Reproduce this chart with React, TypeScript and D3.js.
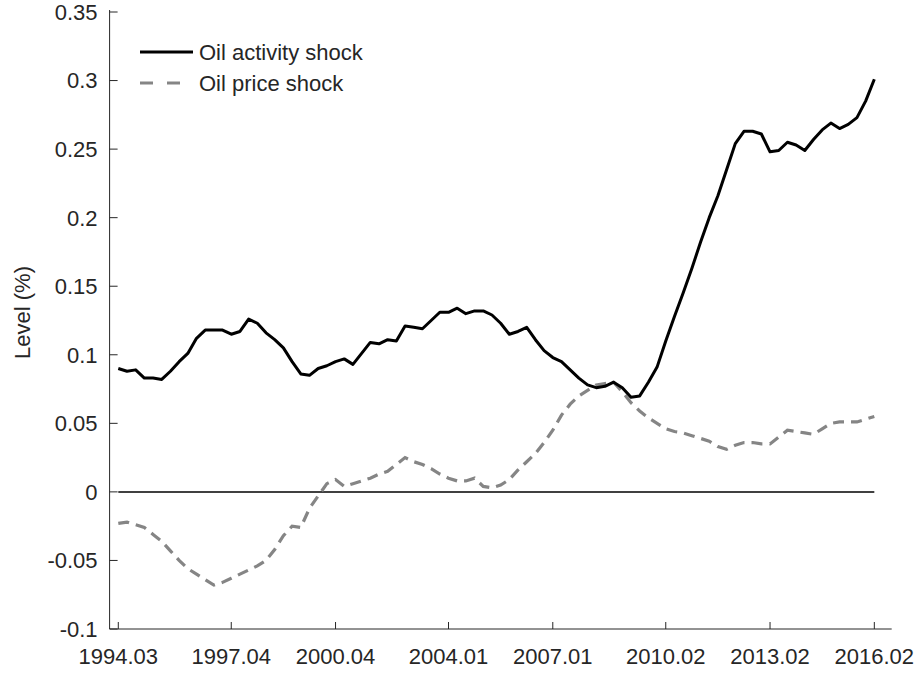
import React from 'react';
import * as d3 from 'd3';

// quarterly data, 1994Q3 .. 2016Q2
const startYear = 1994;
const startQuarter = 3;

const oilActivity = [
  0.090, 0.088, 0.089, 0.083, 0.083, 0.082, 0.088, 0.095, 0.101, 0.112,
  0.118, 0.118, 0.118, 0.115, 0.117, 0.126, 0.123, 0.116, 0.111, 0.105,
  0.095, 0.086, 0.085, 0.090, 0.092, 0.095, 0.097, 0.093, 0.101, 0.109,
  0.108, 0.111, 0.110, 0.121, 0.120, 0.119, 0.125, 0.131, 0.131, 0.134,
  0.130, 0.132, 0.132, 0.129, 0.123, 0.115, 0.117, 0.120, 0.111, 0.103,
  0.098, 0.095, 0.089, 0.083, 0.078, 0.076, 0.077, 0.080, 0.076, 0.069,
  0.070, 0.080, 0.091, 0.110, 0.128, 0.145, 0.163, 0.182, 0.200, 0.216,
  0.235, 0.254, 0.263, 0.263, 0.261, 0.248, 0.249, 0.255, 0.253, 0.249,
  0.257, 0.264, 0.269, 0.265, 0.268, 0.273, 0.285, 0.301,
];

const oilPrice = [
  -0.023, -0.022, -0.024, -0.026, -0.031, -0.036, -0.043, -0.050, -0.056, -0.060,
  -0.064, -0.068, -0.066, -0.063, -0.060, -0.057, -0.054, -0.050, -0.042, -0.032,
  -0.025, -0.026, -0.012, -0.003, 0.006, 0.009, 0.004, 0.006, 0.008, 0.010,
  0.013, 0.015, 0.020, 0.025, 0.022, 0.020, 0.017, 0.013, 0.010, 0.008,
  0.008, 0.010, 0.004, 0.003, 0.005, 0.009, 0.016, 0.022, 0.028, 0.036,
  0.045, 0.056, 0.064, 0.070, 0.074, 0.078, 0.079, 0.080, 0.073, 0.065,
  0.059, 0.054, 0.050, 0.046, 0.044, 0.043, 0.041, 0.039, 0.037, 0.033,
  0.031, 0.034, 0.036, 0.036, 0.035, 0.035, 0.040, 0.045, 0.044, 0.043,
  0.042, 0.046, 0.050, 0.051, 0.051, 0.051, 0.053, 0.055,
];

const xTickLabels = ['1994.03', '1997.04', '2000.04', '2004.01', '2007.01', '2010.02', '2013.02', '2016.02'];
const yTicks = [-0.1, -0.05, 0, 0.05, 0.1, 0.15, 0.2, 0.25, 0.3, 0.35];
const legendLabels = ['Oil activity shock', 'Oil price shock'];

const width = 921;
const height = 673;
const font = '"Liberation Sans", Arial, Helvetica, sans-serif';
const textColor = '#262626';

const quarterIndex = (label: string) => {
  const [y, q] = label.split('.').map(Number);
  return (y - startYear) * 4 + (q - startQuarter);
};

const App = () => {
  const n = oilActivity.length;
  const x = d3.scaleLinear().domain([-1, n + 1]).range([109.6, 891.7]);
  const y = d3.scaleLinear().domain([-0.1, 0.35]).range([629, 12]);

  const line = d3.line<number>()
    .x((_, i) => x(i))
    .y(d => y(d));

  const fmt = (v: number) => (v === 0 ? '0' : String(+v.toFixed(2)));

  const [x0, x1] = x.range();
  const [yBottom, yTop] = y.range();

  return (
    <svg width={width} height={height} style={{ position: 'absolute', left: 0, top: 0, background: '#fff' }}
      fontFamily={font}>
      <rect width={width} height={height} fill="#fff" />

      {/* zero line */}
      <line x1={x(0)} x2={x(n - 1)} y1={y(0)} y2={y(0)} stroke="#000" strokeWidth={1.5} />

      <path d={line(oilPrice) || ''} fill="none" stroke="#858585" strokeWidth={3.2}
        strokeDasharray="11,7" />
      <path d={line(oilActivity) || ''} fill="none" stroke="#000" strokeWidth={3}
        strokeLinejoin="round" />

      {/* axes */}
      <line x1={x0} x2={x0} y1={yBottom} y2={yTop - 2} stroke={textColor} strokeWidth={1} />
      <line x1={x0} x2={x1} y1={yBottom} y2={yBottom} stroke={textColor} strokeWidth={1} />

      {yTicks.map(t => (
        <g key={t}>
          <line x1={x0} x2={x0 + 8} y1={y(t)} y2={y(t)} stroke={textColor} />
          <text x={x0 - 12} y={y(t)} dy="0.36em" textAnchor="end" fontSize={22} fill={textColor}>{fmt(t)}</text>
        </g>
      ))}

      {xTickLabels.map(l => {
        const px = x(quarterIndex(l));
        return (
          <g key={l}>
            <line x1={px} x2={px} y1={yBottom} y2={yBottom - 7} stroke={textColor} />
            <text x={px} y={664} textAnchor="middle" fontSize={22} fill={textColor}>{l}</text>
          </g>
        );
      })}

      <text transform={`translate(30,${(yTop + yBottom) / 2 - 8}) rotate(-90)`} textAnchor="middle"
        fontSize={22} fill={textColor}>Level (%)</text>

      {/* legend */}
      <line x1={140} x2={193} y1={52} y2={52} stroke="#000" strokeWidth={3} />
      <text x={199} y={52} dy="0.36em" fontSize={22} fill={textColor}>{legendLabels[0]}</text>
      <line x1={140} x2={182} y1={83} y2={83} stroke="#858585" strokeWidth={3.2} strokeDasharray="13,14" />
      <text x={199} y={83} dy="0.36em" fontSize={22} fill={textColor}>{legendLabels[1]}</text>
    </svg>
  );
};

export default App;
